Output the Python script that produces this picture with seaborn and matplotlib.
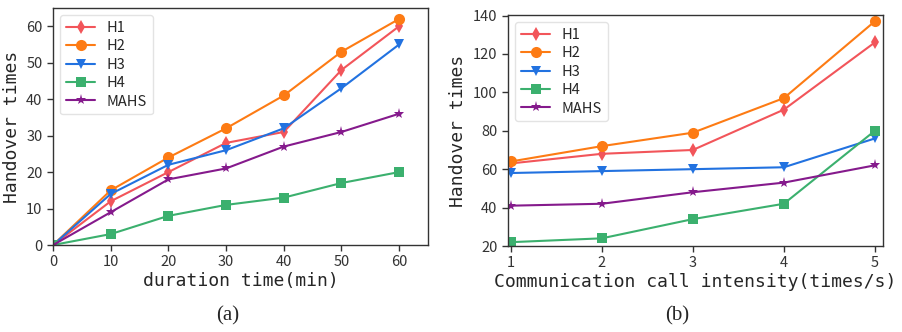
import numpy as np
import pandas as pd
import matplotlib
matplotlib.use("Agg")
import matplotlib.pyplot as plt
import seaborn as sns

# data
methods = ['H1', 'H2', 'H3', 'H4', 'MAHS']

x_a = [0, 10, 20, 30, 40, 50, 60]
h1_a = [0, 12, 20, 28, 31, 48, 60]
h2_a = [0, 15, 24, 32, 41, 53, 62]
h3_a = [0, 14, 22, 26, 32, 43, 55]
h4_a = [0, 3, 8, 11, 13, 17, 20]
mahs_a = [0, 9, 18, 21, 27, 31, 36]

x_b = [1, 2, 3, 4, 5]
h1_b = [63, 68, 70, 91, 126]
h2_b = [64, 72, 79, 97, 137]
h3_b = [58, 59, 60, 61, 76]
h4_b = [22, 24, 34, 42, 80]
mahs_b = [41, 42, 48, 53, 62]

colors = {'H1': '#f2555a', 'H2': '#fd7b14', 'H3': '#2272e0',
          'H4': '#3bb06e', 'MAHS': '#851a8c'}
markers = {'H1': 'd', 'H2': 'o', 'H3': 'v', 'H4': 's', 'MAHS': '*'}
msizes = {'H1': 7.5, 'H2': 8, 'H3': 7.5, 'H4': 7, 'MAHS': 8}


def make_df(x, series):
    rows = []
    for name, vals in zip(methods, series):
        for xi, yi in zip(x, vals):
            rows.append({'x': xi, 'y': yi, 'method': name})
    return pd.DataFrame(rows)


df_a = make_df(x_a, [h1_a, h2_a, h3_a, h4_a, mahs_a])
df_b = make_df(x_b, [h1_b, h2_b, h3_b, h4_b, mahs_b])

sns.set_style('ticks')
plt.rcParams['font.family'] = ['Noto Sans CJK SC', 'DejaVu Sans']
plt.rcParams['axes.edgecolor'] = '#333333'
plt.rcParams['xtick.color'] = '#333333'
plt.rcParams['ytick.color'] = '#333333'

mono = 'DejaVu Sans Mono'

fig = plt.figure(figsize=(9.02, 3.32), dpi=100)
ax1 = fig.add_axes([0.0588, 0.262, 0.4157, 0.714])
ax2 = fig.add_axes([0.563, 0.259, 0.416, 0.696])


def draw(ax, df):
    for m in methods:
        d = df[df['method'] == m]
        sns.lineplot(data=d, x='x', y='y', ax=ax, color=colors[m],
                     marker=markers[m], markersize=msizes[m],
                     markeredgewidth=0, linewidth=1.5, label=m)
    leg = ax.legend(loc='upper left', fontsize=10.5, frameon=True,
                    handlelength=2.0, borderpad=0.4, labelspacing=0.3)
    leg.get_frame().set_edgecolor('#dddddd')
    ax.tick_params(labelsize=10.5, length=4, width=1, colors='#333333')
    for s in ax.spines.values():
        s.set_linewidth(1)


draw(ax1, df_a)
ax1.set_xlim(0, 65)
ax1.set_ylim(0, 65)
ax1.set_xticks(x_a)
ax1.set_yticks([0, 10, 20, 30, 40, 50, 60])
ax1.set_xlabel('duration time(min)', fontsize=13, family=mono, labelpad=2)
ax1.set_ylabel('Handover times', fontsize=13, family=mono, labelpad=4)

draw(ax2, df_b)
ax2.set_xlim(0.967, 5.09)
ax2.set_ylim(20, 140.3)
ax2.set_xticks(x_b)
ax2.set_yticks([20, 40, 60, 80, 100, 120, 140])
ax2.set_xlabel('Communication call intensity(times/s)', fontsize=13,
               family=mono, labelpad=2)
ax2.set_ylabel('Handover times', fontsize=13, family=mono, labelpad=4)

fig.text(0.252, 0.05, '(a)', fontsize=15, family='Liberation Serif',
         ha='center', va='center')
fig.text(0.751, 0.05, '(b)', fontsize=15, family='Liberation Serif',
         ha='center', va='center')

fig.savefig('out.png', dpi=100)
